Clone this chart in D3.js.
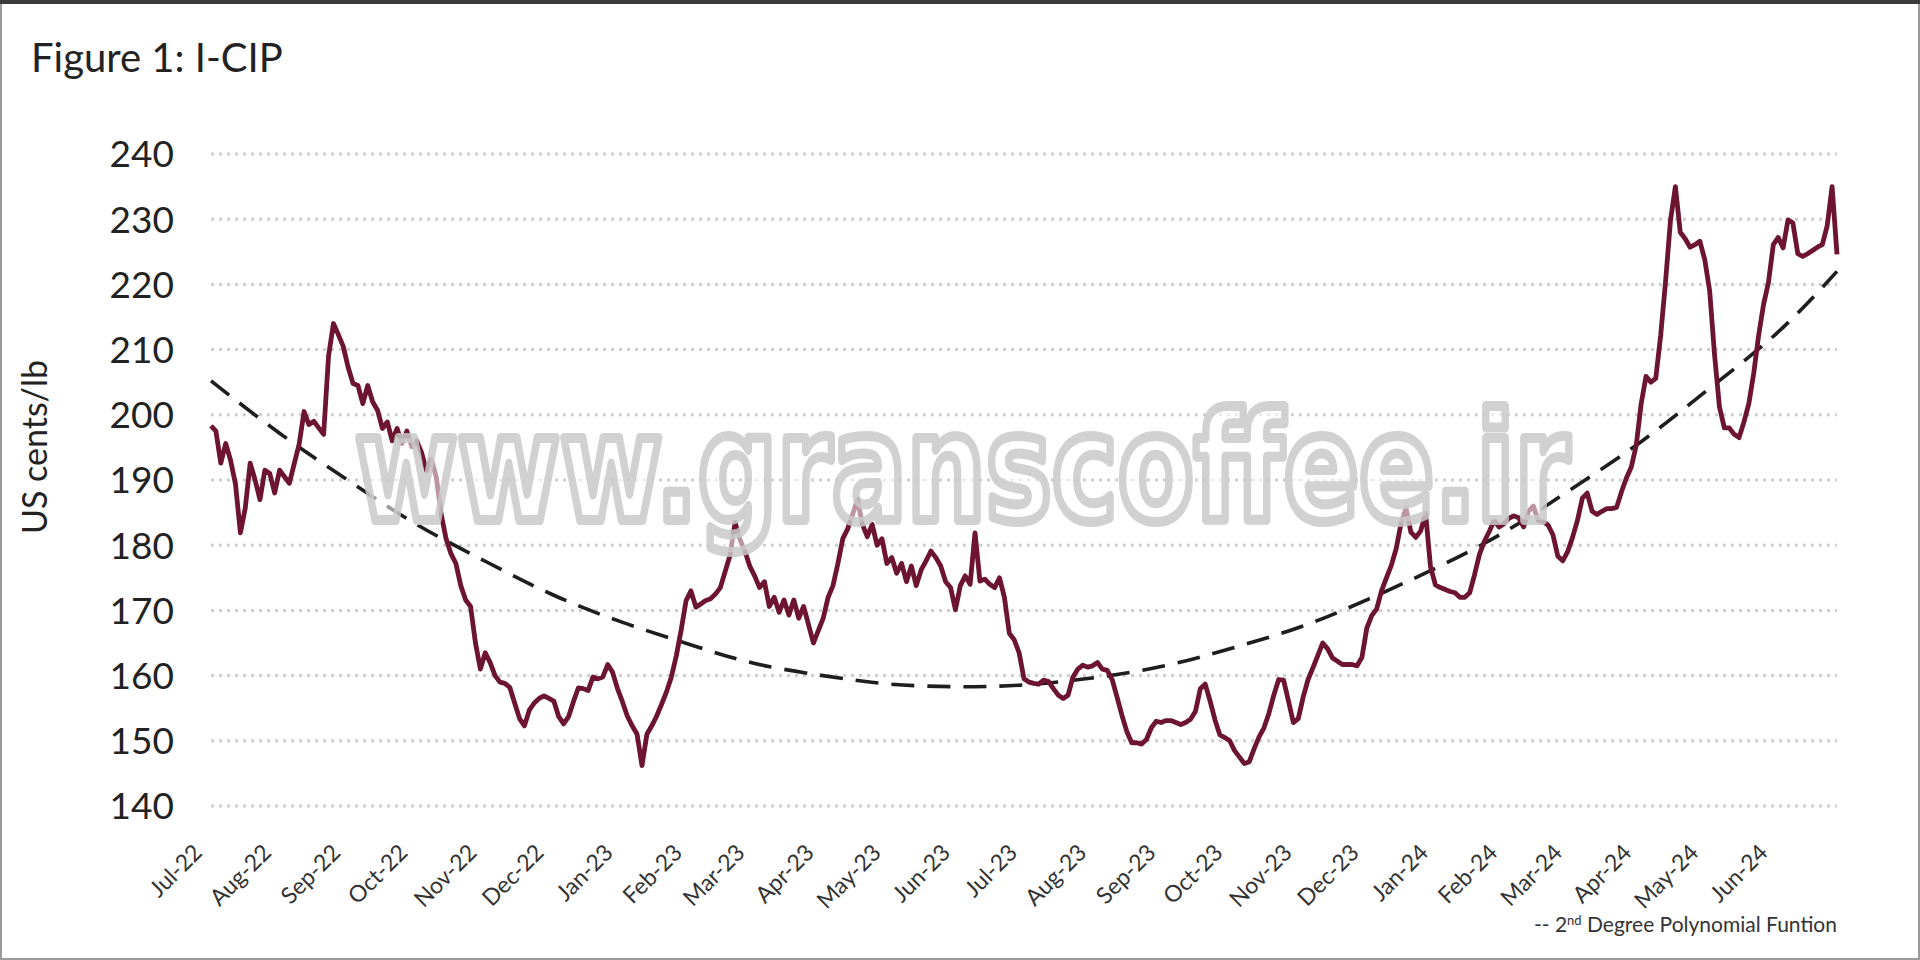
<!DOCTYPE html>
<html>
<head>
<meta charset="utf-8">
<script src="https://cdn.jsdelivr.net/npm/d3@7"></script>
<style>
  html, body { margin: 0; padding: 0; background: #fff; }
  svg { display: block; font-family: Lato, "Open Sans", sans-serif; }
</style>
</head>
<body>
<svg id="chart" width="1920" height="960"></svg>
<script>
// ---- data ----
const title = "Figure 1: I-CIP";
const yAxisTitle = "US cents/lb";
const startDate = "2022-07-01";
const endDate = "2024-06-28";
const monthTicks = ["2022-07-01","2022-08-01","2022-09-01","2022-10-01","2022-11-01","2022-12-01",
  "2023-01-01","2023-02-01","2023-03-01","2023-04-01","2023-05-01","2023-06-01",
  "2023-07-01","2023-08-01","2023-09-01","2023-10-01","2023-11-01","2023-12-01",
  "2024-01-01","2024-02-01","2024-03-01","2024-04-01","2024-05-01","2024-06-01"];
const yTicks = [140,150,160,170,180,190,200,210,220,230,240];
// I-CIP price, US cents/lb (observations evenly spaced between startDate and endDate)
const icipValues = [
  198.3,197.5,192.6,195.6,193.0,189.4,181.9,185.7,
  192.6,190.0,187.0,191.5,191.0,188.0,191.5,190.5,189.5,192.5,195.5,200.5,198.5,199.0,198.0,197.0,209.0,214.0,212.3,210.5,207.3,204.8,204.5,201.7,204.5,
  202.0,200.7,197.9,198.9,196.0,197.9,195.6,197.5,195.1,196.0,194.2,191.4,193.2,190.4,184.7,181.0,178.7,177.2,173.8,171.6,170.6,165.0,161.0,163.5,162.0,
  160.0,159.0,158.8,158.2,155.8,153.4,152.3,154.7,155.8,156.5,156.9,156.5,156.1,153.7,152.6,153.7,156.0,158.1,158.0,157.7,159.8,159.5,159.8,161.7,160.5,
  158.0,156.0,153.8,152.3,151.0,146.2,151.0,152.3,153.8,155.6,157.5,159.8,163.0,167.0,171.5,173.0,170.5,171.0,171.5,171.8,172.5,173.5,176.0,178.5,183.5,
  180.9,179.1,176.8,175.3,173.5,174.4,170.6,172.0,169.7,171.6,169.3,171.6,168.8,170.6,167.8,165.0,166.9,168.8,172.0,173.8,177.2,181.0,182.5,184.7,187.0,
  183.2,181.3,183.2,180.0,181.0,177.2,178.1,175.7,177.2,174.4,176.8,173.8,176.2,177.6,179.1,178.1,176.8,174.4,173.5,170.1,173.8,175.3,174.0,181.9,174.5,
  174.8,174.0,173.5,175.0,172.0,166.5,165.5,163.5,159.5,159.0,158.8,158.7,159.3,159.1,158.0,157.0,156.5,157.0,159.8,161.0,161.6,161.3,161.5,162.0,161.0,
  160.8,159.4,156.7,153.9,151.4,149.7,149.7,149.5,150.2,152.0,153.0,152.8,153.1,153.1,152.8,152.5,152.8,153.3,154.5,158.0,158.7,156.1,153.2,150.9,150.5,
  150.0,148.5,147.5,146.5,146.8,148.8,150.6,152.0,154.2,157.0,159.4,159.3,156.1,152.8,153.4,156.7,159.4,161.2,163.1,165.0,164.1,162.7,162.2,161.7,161.7,
  161.7,161.5,162.8,167.3,169.2,170.2,173.0,175.0,176.9,179.5,183.4,185.7,182.0,181.2,182.2,184.9,176.7,173.9,173.5,173.2,172.9,172.7,172.0,172.0,172.7,
  175.5,178.6,180.6,182.1,183.8,182.8,183.3,184.1,184.5,184.2,182.8,185.2,186.0,183.8,183.6,183.1,181.6,178.3,177.6,179.0,181.2,183.8,187.2,188.0,185.2,
  184.7,185.2,185.6,185.6,185.8,188.2,190.3,192.0,195.3,201.6,205.9,205.0,205.6,212.2,220.5,229.8,235.0,228.0,227.0,225.7,226.1,226.6,223.8,219.0,209.2,
  201.2,198.0,198.0,197.0,196.5,198.9,201.7,206.4,212.2,216.9,220.3,226.1,227.2,225.6,229.9,229.4,224.7,224.3,224.7,225.2,225.7,226.1,229.0,235.0,224.6
];
// 2nd degree polynomial trend, read at each month start (plus end date)
const trendDates = monthTicks.concat([endDate]);
const trendValues = [205.2,197.1,189.8,183.2,177.5,172.4,168.2,164.7,161.9,160.0,158.7,158.3,
  158.6,159.7,161.5,164.2,167.5,171.7,176.6,182.2,188.6,195.8,203.8,212.5,222.0];
const legendLabel = ["-- 2", "nd", " Degree Polynomial Funtion"];
const watermark = "www.granscoffee.ir";

// ---- chart ----
const svg = d3.select("#chart");
const W = 1920, H = 960;
const parse = d3.utcParse("%Y-%m-%d");
const t0 = parse(startDate), t1 = parse(endDate);

const x = d3.scaleUtc().domain([t0, t1]).range([211, 1837]);
const y = d3.scaleLinear().domain([140, 240]).range([806, 154]);

// frame
svg.append("rect").attr("x", 1).attr("y", 1).attr("width", W - 2).attr("height", H - 2)
  .attr("fill", "#fff").attr("stroke", "#9a9a9a").attr("stroke-width", 2);
svg.append("line").attr("x1", 0).attr("x2", W).attr("y1", 2).attr("y2", 2)
  .attr("stroke", "#3a3a3a").attr("stroke-width", 4);

// title
svg.append("text").attr("x", 31).attr("y", 72)
  .attr("font-size", 40).attr("fill", "#222").text(title);

// grid
svg.append("g").selectAll("line").data(yTicks).join("line")
  .attr("x1", x.range()[0]).attr("x2", x.range()[1])
  .attr("y1", d => y(d)).attr("y2", d => y(d))
  .attr("stroke", "#cfcfcf").attr("stroke-width", 3).attr("stroke-dasharray", "3,5");

// y axis
const yAxis = d3.axisLeft(y).tickValues(yTicks).tickSize(0).tickPadding(0);
const gy = svg.append("g").attr("transform", "translate(174,0)").call(yAxis);
gy.select(".domain").remove();
gy.selectAll("text").attr("font-size", 37).attr("fill", "#222")
  .attr("font-family", "Lato, sans-serif").attr("dy", "0.35em");

svg.append("text")
  .attr("transform", "translate(47,447) rotate(-90)")
  .attr("text-anchor", "middle").attr("font-size", 34).attr("fill", "#222")
  .text(yAxisTitle);

// x axis labels
const fmt = d3.utcFormat("%b-%y");
const xAxis = d3.axisBottom(x).tickValues(monthTicks.map(parse)).tickFormat(fmt).tickSize(0).tickPadding(0);
const gx = svg.append("g").attr("transform", "translate(0,854)").call(xAxis);
gx.select(".domain").remove();
gx.selectAll("text")
  .attr("font-size", 23).attr("fill", "#333").attr("font-family", "Lato, sans-serif")
  .attr("y", 0).attr("dy", 0)
  .attr("text-anchor", "end")
  .attr("transform", "translate(-8,0) rotate(-45)");

// trend line
const trend = trendDates.map((d, i) => ({ date: parse(d), value: trendValues[i] }));
svg.append("path").datum(trend)
  .attr("fill", "none").attr("stroke", "#1e1e1e").attr("stroke-width", 3.6)
  .attr("stroke-dasharray", "23,13")
  .attr("d", d3.line().x(d => x(d.date)).y(d => y(d.value)).curve(d3.curveNatural));

// data line
const n = icipValues.length;
const series = icipValues.map((v, i) => ({
  date: new Date(+t0 + (t1 - t0) * i / (n - 1)), value: v
}));
svg.append("path").datum(series)
  .attr("fill", "none").attr("stroke", "#6d1430").attr("stroke-width", 4.8)
  .attr("stroke-linejoin", "round")
  .attr("d", d3.line().x(d => x(d.date)).y(d => y(d.value)));

// legend
const lg = svg.append("text").attr("x", 1837).attr("y", 932)
  .attr("text-anchor", "end").attr("font-size", 21).attr("fill", "#333");
lg.append("tspan").text(legendLabel[0]);
lg.append("tspan").attr("dy", -7).attr("font-size", 13).text(legendLabel[1]);
lg.append("tspan").attr("dy", 7).text(legendLabel[2]);

// watermark
svg.append("text")
  .attr("transform", "translate(355,520) scale(0.74,1)")
  .attr("font-family", "DejaVu Sans, sans-serif").attr("font-weight", "bold")
  .attr("font-size", 150)
  .attr("fill", "#ffffff").attr("fill-opacity", 0.55)
  .attr("stroke", "#c9c9c9").attr("stroke-width", 10).attr("stroke-opacity", 0.85)
  .attr("stroke-linejoin", "round")
  .text(watermark);
</script>
</body>
</html>
